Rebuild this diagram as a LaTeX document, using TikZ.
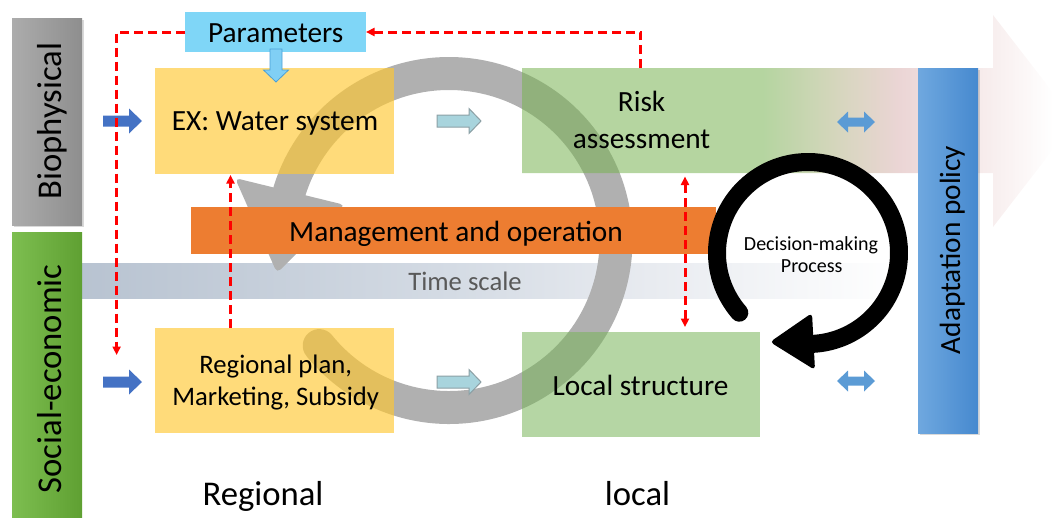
\documentclass[tikz,border=0pt]{standalone}
\usepackage{fontspec}
\setmainfont{Carlito}
\usetikzlibrary{arrows.meta}
\newcommand\fsz[1]{\fontsize{#1}{#1}\selectfont}
\definecolor{yelbox}{RGB}{255,200,50}
\definecolor{grnbox}{RGB}{121,181,90}
\definecolor{ringgray}{RGB}{176,176,176}
\definecolor{orangebar}{RGB}{237,125,49}
\definecolor{parambox}{RGB}{127,214,247}
\definecolor{gA}{RGB}{120,179,82}
\definecolor{tanA}{RGB}{182,180,137}
\definecolor{pinkA}{RGB}{219,179,179}
\definecolor{paleA}{RGB}{238,216,216}
\definecolor{tsA}{RGB}{184,195,209}
\definecolor{tsB}{RGB}{212,219,228}
\definecolor{tsC}{RGB}{232,235,240}
\definecolor{bioL}{RGB}{172,172,172}
\definecolor{bioR}{RGB}{142,142,142}
\definecolor{socL}{RGB}{125,190,80}
\definecolor{socR}{RGB}{95,160,50}
\definecolor{adL}{RGB}{111,168,223}
\definecolor{adR}{RGB}{70,137,207}
\definecolor{bluearr}{RGB}{68,114,196}
\definecolor{tealarr}{RGB}{168,212,221}
\definecolor{tealedge}{RGB}{140,160,165}
\definecolor{dblarr}{RGB}{91,155,213}
\definecolor{downarr}{RGB}{128,207,245}
\definecolor{downedge}{RGB}{74,159,216}
\definecolor{tsText}{RGB}{89,89,89}
\pgfdeclarehorizontalshading{bigarr}{100bp}{color(0bp)=(gA); color(46.8bp)=(gA); color(53.75bp)=(tanA); color(59.2bp)=(pinkA); color(66bp)=(paleA); color(73bp)=(white); color(100bp)=(white)}
\pgfdeclarehorizontalshading{timesh}{100bp}{color(0bp)=(tsA); color(25bp)=(tsA); color(47.5bp)=(tsB); color(59.7bp)=(tsC); color(75bp)=(white); color(100bp)=(white)}
\begin{document}
\begin{tikzpicture}[x=1pt,y=-1pt,
  box/.style={inner sep=0pt, outer sep=0pt, anchor=north west, draw=none},
  lbl/.style={inner sep=0pt, anchor=base, text=black, font=\fsz{29.3}},
  lblS/.style={inner sep=0pt, anchor=base, text=black, font=\fsz{26.7}},
  lblD/.style={inner sep=0pt, anchor=base, text=black, font=\fsz{20}},
  lblB/.style={inner sep=0pt, anchor=base, text=black, font=\fsz{34.7}},
  reddash/.style={draw=red, line width=3pt, dash pattern=on 9pt off 5pt},
  redtip/.style={-{Triangle[length=8.5pt,width=8pt]}},
  redtips/.style={{Triangle[length=8.5pt,width=8pt]}-{Triangle[length=8.5pt,width=8pt]}},
  bluer/.style={fill=bluearr},
  tealr/.style={fill=tealarr, draw=tealedge, line width=1pt},
  dblr/.style={fill=dblarr},
  shadowbar/.style={fill=black, opacity=0.15}]
\useasboundingbox (0,0) rectangle (1059,517);

% time scale bar
\shade[shading=timesh] (82,263) rectangle (900,298);

% side bars
\fill[shadowbar] (14,20) rectangle (84,227);
\node[box, left color=bioL, right color=bioR, minimum width=70pt, minimum height=207pt] (bio) at (12,18) {};
\node[box, left color=socL, right color=socR, minimum width=70pt, minimum height=290pt] (soc) at (12,232) {};

% gray circular arrow
\draw[ringgray, line width=33pt, line cap=round] (449,240.5) ++(141:167) arc[start angle=141, end angle=-162.9, radius=167];
\fill[ringgray, rounded corners=5pt] (235,178) -- (345,205) -- (277,273) -- cycle;

% management bar
\node[box, fill=orangebar, minimum width=525pt, minimum height=47pt] (mgmt) at (191,207) {};

% big arrow (risk assessment)
\shade[shading=bigarr, fill opacity=0.55] (522,68) -- (993,68) -- (993,15) -- (1075,121) -- (993,227) -- (993,173) -- (522,173) -- cycle;
\coordinate (risktop) at (640.9,68);
\coordinate (riskbot) at (685,174);

% boxes
\node[box, fill=yelbox, fill opacity=0.65, minimum width=239pt, minimum height=106pt] (ex) at (155,68) {};
\node[box, fill=yelbox, fill opacity=0.65, minimum width=239pt, minimum height=105pt] (reg) at (155,328) {};
\node[box, fill=grnbox, fill opacity=0.55, minimum width=238pt, minimum height=105pt] (loc) at (522,332) {};
\node[box, fill=parambox, minimum width=181pt, minimum height=40pt] (params) at (185,12) {};

% small block arrows
\fill[bluer, shift={(103,121)}] (0,-5.5) -- (26,-5.5) -- (26,-12.5) -- (39,0) -- (26,12.5) -- (26,5.5) -- (0,5.5) -- cycle;
\fill[bluer, shift={(103,382)}] (0,-5.5) -- (26,-5.5) -- (26,-12.5) -- (39,0) -- (26,12.5) -- (26,5.5) -- (0,5.5) -- cycle;
\filldraw[tealr, shift={(437,121)}] (0,-6) -- (32,-6) -- (32,-12.5) -- (44,0) -- (32,12.5) -- (32,6) -- (0,6) -- cycle;
\filldraw[tealr, shift={(437,382)}] (0,-6) -- (32,-6) -- (32,-12.5) -- (44,0) -- (32,12.5) -- (32,6) -- (0,6) -- cycle;
\fill[dblr, shift={(837,122)}] (0,0) -- (11,-10.5) -- (11,-4.5) -- (27,-4.5) -- (27,-10.5) -- (38,0) -- (27,10.5) -- (27,4.5) -- (11,4.5) -- (11,10.5) -- cycle;
\fill[dblr, shift={(837,381)}] (0,0) -- (11,-10.5) -- (11,-4.5) -- (27,-4.5) -- (27,-10.5) -- (38,0) -- (27,10.5) -- (27,4.5) -- (11,4.5) -- (11,10.5) -- cycle;
\filldraw[fill=downarr, draw=downedge, line width=0.8pt, shift={(276,49)}] (-6,0) -- (6,0) -- (6,21) -- (12.5,21) -- (0,33) -- (-12.5,21) -- (-6,21) -- cycle;

% red dashed connectors
\coordinate (socin) at (116.6,355);
\coordinate (d3) at (230.5,0);
\draw[reddash, redtip] (params.west) -| (socin);
\draw[reddash, redtip] (risktop) |- (params.east);
\draw[reddash, redtip, shorten >=1pt] (reg.north -| d3) -- (ex.south -| d3);
\draw[reddash, redtips, shorten <=2.5pt, shorten >=5pt] (riskbot) -- (loc.north -| riskbot);

% adaptation policy bar
\fill[shadowbar] (920,70) rectangle (980,435);
\node[box, left color=adL, right color=adR, minimum width=60pt, minimum height=365pt] (adapt) at (918,68) {};

% black decision-making arrow
\draw[black, line width=18pt, line cap=round] (808,253) ++(139:91) arc[start angle=139, end angle=447, radius=91];
\fill[black, rounded corners=4pt] (812,313) -- (815,370) -- (770,342) -- cycle;

% texts
\node[lbl] (paramtxt) at (275.7,42) {Parameters};
\node[lbl] (extxt) at (275,130) {EX: Water system};
\node[lbl] (risktxt1) at (641.6,111.7) {Risk};
\node[lbl] (risktxt2) at (641.6,148.3) {assessment};
\node[lbl] (mgmttxt) at (456,241) {Management and operation};
\node[lblS, text=tsText] (timetxt) at (465,290) {Time scale};
\node[lblS] (regtxt1) at (275.7,373.3) {Regional plan,};
\node[lblS] (regtxt2) at (275.7,405.7) {Marketing, Subsidy};
\node[lbl] (loctxt) at (640.5,395) {Local structure};
\node[lblD] (dectxt1) at (811,250) {Decision-making};
\node[lblD] (dectxt2) at (811.7,272) {Process};
\node[lblB, rotate=90] (biotxt) at (61,121) {Biophysical};
\node[lblB, rotate=90] (soctxt) at (61,378.8) {Social-economic};
\node[lbl, rotate=90] (adapttxt) at (960,250) {Adaptation policy};
\node[lblB] (regionaltxt) at (263,505) {Regional};
\node[lblB] (localtxt) at (637.5,505) {local};
\end{tikzpicture}
\end{document}
